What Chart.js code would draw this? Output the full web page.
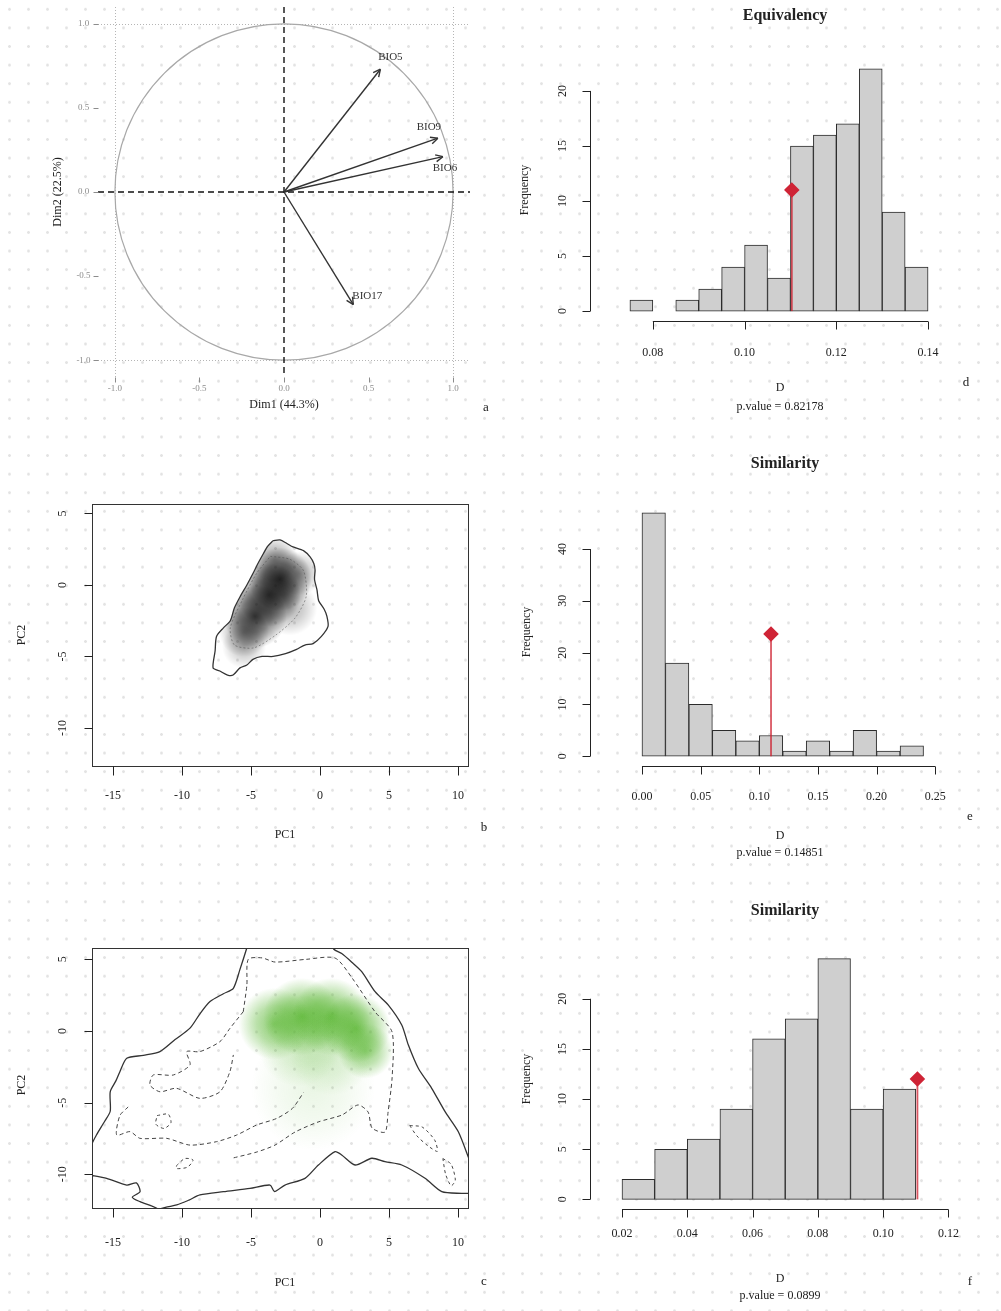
<!DOCTYPE html>
<html>
<head>
<meta charset="utf-8">
<script src="https://cdn.jsdelivr.net/npm/chart.js@4.4.1/dist/chart.umd.min.js"></script>
<style>
html, body { margin: 0; padding: 0; background: #fff; }
body {
    width: 1001px; height: 1311px; position: relative; overflow: hidden;
    background-image: radial-gradient(circle, #e3e3e3 1px, transparent 1.7px);
    background-size: 19px 18.6px;
}
canvas { position: absolute; }
</style>
</head>
<body>
<canvas id="pa"></canvas>
<canvas id="pb"></canvas>
<canvas id="pc"></canvas>
<canvas id="pd"></canvas>
<canvas id="pe"></canvas>
<canvas id="pf"></canvas>
<script>
// ---- a: PCA correlation circle
const pcaVars = ['BIO5', 'BIO9', 'BIO6', 'BIO17']
const pcaDim1 = [0.57, 0.91, 0.94, 0.41]
const pcaDim2 = [0.73, 0.32, 0.21, -0.67]
const pcaTicks = [-1, -0.5, 0, 0.5, 1]
const pcaTickLabels = ['-1.0', '-0.5', '0.0', '0.5', '1.0']
const pcaGrid = [-1, 1]

// ---- d: equivalency test histogram
const eqBins = [0.0775, 0.0825, 0.0875, 0.0925, 0.0975, 0.1025, 0.1075, 0.1125, 0.1175, 0.1225, 0.1275, 0.1325, 0.1375]
const eqCounts = [1, 0, 1, 2, 4, 6, 3, 15, 16, 17, 22, 9, 4]
const eqObs = [0.1103, 11]
const eqXTicks = [0.08, 0.10, 0.12, 0.14]
const eqXLabels = ['0.08', '0.10', '0.12', '0.14']
const eqYTicks = [0, 5, 10, 15, 20]

// ---- e: similarity test histogram
const simBins = [0.01, 0.03, 0.05, 0.07, 0.09, 0.11, 0.13, 0.15, 0.17, 0.19, 0.21, 0.23]
const simCounts = [47, 18, 10, 5, 3, 4, 1, 3, 1, 5, 1, 2]
const simObs = [0.11, 23.6]
const simXTicks = [0, 0.05, 0.10, 0.15, 0.20, 0.25]
const simXLabels = ['0.00', '0.05', '0.10', '0.15', '0.20', '0.25']
const simYTicks = [0, 10, 20, 30, 40]

// ---- f: similarity test histogram
const sim2Bins = [0.025, 0.035, 0.045, 0.055, 0.065, 0.075, 0.085, 0.095, 0.105]
const sim2Counts = [2, 5, 6, 9, 16, 18, 24, 9, 11]
const sim2Obs = [0.1105, 12]
const sim2XTicks = [0.02, 0.04, 0.06, 0.08, 0.10, 0.12]
const sim2XLabels = ['0.02', '0.04', '0.06', '0.08', '0.10', '0.12']
const sim2YTicks = [0, 5, 10, 15, 20]

// ---- b, c: niche space (PC1 / PC2)
const pcXTicks = [-15, -10, -5, 0, 5, 10]
const pcYTicks = [5, 0, -5, -10]

const bOutline = [[-3.4, 3.1], [-2.9, 3.15], [-2.4, 2.9], [-1.96, 2.66], [-1.2, 2.4], [-0.72, 1.96], [-0.45, 1.5], [-0.36, 1.05],
    [-0.4, 0.4], [-0.22, -0.35], [-0.1, -1.1], [0.3, -1.7], [0.5, -2.2], [0.58, -2.9], [0.1, -3.6], [-0.5, -4.1],
    [-1.1, -4.2], [-1.7, -4.5], [-2.5, -4.8], [-3.4, -5.0], [-4.2, -5.0], [-4.86, -5.2], [-5.3, -5.6], [-5.8, -5.8],
    [-6.3, -6.3], [-6.7, -6.3], [-7.3, -6.0], [-7.75, -5.8], [-7.6, -4.6], [-7.5, -3.6], [-7.0, -3.0], [-6.5, -2.5],
    [-6.2, -1.6], [-5.8, -0.84], [-5.3, 0.0], [-4.86, 0.8], [-4.5, 1.5], [-4.1, 2.2], [-3.8, 2.7], [-3.4, 3.1]]
const bInner = [[-3.6, 2.0], [-2.2, 1.8], [-1.2, 1.0], [-1.0, -0.8], [-1.8, -2.3], [-3.2, -3.5], [-4.8, -4.4],
    [-6.2, -4.2], [-6.5, -3.0], [-5.6, -1.0], [-4.6, 0.8], [-3.6, 2.0]]
// density kernels: x, y, radius, weight
const bDensity = [[-2.9, 0.4, 2.3, 0.8], [-3.7, -0.7, 2.3, 0.7], [-4.7, -2.2, 2.3, 0.75], [-5.5, -3.3, 1.8, 0.4],
    [-2.2, -1.6, 2.0, 0.3], [-3.3, 1.8, 1.7, 0.35], [-5.5, -4.3, 1.6, 0.25], [-1.5, 0.8, 1.6, 0.3]]

const cSolidOuter = [[-16.6, -8.0], [-16.2, -7.26], [-15.6, -6.3], [-15.2, -5.6], [-15.2, -4.24], [-14.8, -3.5],
    [-14.5, -2.84], [-14.0, -1.9], [-12.8, -1.7], [-11.6, -1.44], [-10.5, -0.6], [-9.42, 0.2], [-8.7, 1.2],
    [-7.97, 2.05], [-7.0, 2.6], [-6.28, 2.98], [-5.8, 4.3], [-5.31, 5.77], [-5.1, 6.5], [0.6, 6.5], [1.0, 5.7],
    [1.57, 5.4], [2.3, 4.8], [3.02, 4.14], [3.99, 2.74], [4.95, 1.81], [5.92, 0.42], [6.4, -0.98], [7.12, -2.6],
    [8.09, -4.0], [9.06, -5.63], [10.02, -7.03], [10.87, -9.12]]
const cSolidBottom = [[-12.2, -12.6], [-11.2, -12.3], [-10.38, -12.14], [-9.5, -11.8], [-8.7, -11.44], [-7.0, -11.21],
    [-5.07, -10.98], [-3.62, -10.75], [-3.3, -11.2], [-2.54, -10.75], [-1.09, -10.28], [-0.12, -9.35], [1.09, -8.42],
    [1.57, -8.65], [2.54, -9.35], [3.75, -8.88], [4.71, -9.12], [5.92, -9.35], [7.61, -10.28], [8.82, -11.21],
    [10.27, -11.33], [10.9, -11.33]]
const cSolidCorner = [[-16.7, -10.05], [-15.46, -10.28], [-14.0, -10.75], [-13.3, -10.6], [-13.04, -11.21],
    [-13.6, -11.6], [-13.04, -11.91], [-11.83, -12.37], [-11.5, -12.8]]
const cDashInner = [[-5.56, 1.35], [-5.3, 3.2], [-5.2, 5.0], [-4.2, 5.1], [-3.26, 4.81], [-1.0, 5.0], [1.09, 5.09],
    [2.32, 3.7], [3.99, 1.33], [5.22, -0.07], [5.22, -3.28], [4.93, -5.65], [4.71, -7.05], [3.77, -6.77], [3.48, -5.65],
    [2.75, -5.16], [1.59, -5.86], [-0.14, -6.35], [-1.81, -7.05], [-3.26, -7.96], [-4.57, -8.44], [-6.3, -8.86]]
const cDashLeft = [[-5.56, 1.35], [-6.53, 0.18], [-7.25, -0.74], [-8.7, -1.44], [-9.66, -1.44], [-9.42, -2.37],
    [-10.63, -3.07], [-12.08, -3.07], [-12.32, -3.77], [-11.6, -4.24], [-10.4, -4.0], [-8.7, -4.7], [-7.25, -4.24],
    [-6.53, -2.84], [-6.28, -1.67]]
const cDashLow = [[-13.9, -5.3], [-14.5, -5.9], [-14.73, -7.26], [-13.77, -7.02], [-13.04, -7.49], [-11.11, -7.49],
    [-9.42, -7.96], [-7.49, -7.72], [-6.04, -7.26], [-4.59, -6.56], [-3.14, -6.1], [-2.0, -5.4], [-1.2, -4.3]]
const cLoops = [
    [[-11.8, -5.9], [-11.0, -5.8], [-10.8, -6.4], [-11.3, -6.8], [-11.9, -6.5], [-11.8, -5.9]],
    [[-10.4, -9.4], [-9.8, -8.9], [-9.2, -9.0], [-9.6, -9.5], [-10.4, -9.6], [-10.4, -9.4]],
    [[6.5, -6.6], [7.4, -6.7], [8.3, -7.6], [8.5, -8.4], [7.8, -8.0], [7.0, -7.3], [6.5, -6.6]],
    [[8.9, -8.9], [9.5, -9.3], [9.8, -10.4], [9.5, -10.8], [9.1, -10.0], [8.9, -8.9]]
]
const cDensity = [[-3.3, 0.5, 2.6, 0.65], [-1.3, 1.0, 2.8, 0.75], [0.8, 1.0, 2.8, 0.75], [2.6, 0.2, 2.5, 0.75],
    [3.3, -1.4, 2.0, 0.6], [-1.5, -1.0, 3.0, 0.25], [0.8, -1.6, 3.0, 0.2], [-0.5, -4.0, 4.5, 0.12]]

const serif = (size, bold) => (bold ? 'bold ' : '') + size + 'px "Liberation Serif", "DejaVu Serif", serif'
const INK = '#222'
const extras = {}

function place(id, box, area) {
    const c = document.getElementById(id)
    c.width = box.w
    c.height = box.h
    c.style.left = box.x + 'px'
    c.style.top = box.y + 'px'
    c.style.width = box.w + 'px'
    c.style.height = box.h + 'px'
    return {
        canvas: c,
        padding: {left: area.l - box.x, top: area.t - box.y, right: box.x + box.w - area.r, bottom: box.y + box.h - area.b}
    }
}

function drawText(ctx, t, x, y, font, color, rot) {
    ctx.save()
    ctx.translate(x, y)
    if (rot) ctx.rotate(rot)
    ctx.font = font
    ctx.fillStyle = color || INK
    ctx.textAlign = 'center'
    ctx.textBaseline = 'middle'
    ctx.fillText(t, 0, 0)
    ctx.restore()
}

// R style axes, drawn from the chart's own scales
function axisX(chart, ticks, labels, o) {
    const ctx = chart.ctx, s = chart.scales.x, y = Math.round(chart.chartArea.bottom) + 0.5
    ctx.save()
    ctx.strokeStyle = o.color || INK
    ctx.lineWidth = 1
    ctx.beginPath()
    if (o.line) {
        ctx.moveTo(s.getPixelForValue(ticks[0]), y)
        ctx.lineTo(s.getPixelForValue(ticks[ticks.length - 1]), y)
    }
    ticks.forEach(v => {
        const x = Math.round(s.getPixelForValue(v)) + 0.5
        ctx.moveTo(x, y)
        ctx.lineTo(x, y + o.len)
    })
    ctx.stroke()
    labels.forEach((l, i) => drawText(ctx, l, s.getPixelForValue(ticks[i]), y + o.off, o.font, o.color))
    ctx.restore()
}

function axisY(chart, ticks, labels, o) {
    const ctx = chart.ctx, s = chart.scales.y, x = Math.round(chart.chartArea.left) + 0.5
    ctx.save()
    ctx.strokeStyle = o.color || INK
    ctx.lineWidth = 1
    ctx.beginPath()
    if (o.line) {
        ctx.moveTo(x, s.getPixelForValue(ticks[0]))
        ctx.lineTo(x, s.getPixelForValue(ticks[ticks.length - 1]))
    }
    ticks.forEach(v => {
        const y = Math.round(s.getPixelForValue(v)) + 0.5
        ctx.moveTo(x, y)
        ctx.lineTo(x - o.len, y)
    })
    ctx.stroke()
    labels.forEach((l, i) => drawText(ctx, l, x - o.off, s.getPixelForValue(ticks[i]), o.font, o.color, o.rot ? -Math.PI / 2 : 0))
    ctx.restore()
}

function drawBlobs(chart, blobs, rgb) {
    const ctx = chart.ctx, sx = chart.scales.x, sy = chart.scales.y
    const unit = Math.abs(sx.getPixelForValue(1) - sx.getPixelForValue(0))
    blobs.forEach(b => {
        const cx = sx.getPixelForValue(b[0]), cy = sy.getPixelForValue(b[1]), r = b[2] * unit
        const g = ctx.createRadialGradient(cx, cy, 0, cx, cy, r)
        g.addColorStop(0, 'rgba(' + rgb + ',' + b[3] + ')')
        g.addColorStop(0.5, 'rgba(' + rgb + ',' + (b[3] * 0.6) + ')')
        g.addColorStop(1, 'rgba(' + rgb + ',0)')
        ctx.fillStyle = g
        ctx.fillRect(cx - r, cy - r, 2 * r, 2 * r)
    })
}

function polyPath(chart, pts) {
    const ctx = chart.ctx, sx = chart.scales.x, sy = chart.scales.y
    ctx.beginPath()
    pts.forEach((p, i) => {
        const x = sx.getPixelForValue(p[0]), y = sy.getPixelForValue(p[1])
        if (i === 0) ctx.moveTo(x, y)
        else ctx.lineTo(x, y)
    })
    ctx.closePath()
}

const rstyle = {
    id: 'rstyle',
    beforeDatasetsDraw(chart) {
        const p = extras[chart.canvas.id]
        if (p && p.under) p.under(chart)
    },
    afterDraw(chart) {
        const p = extras[chart.canvas.id]
        if (!p) return
        if (p.over) p.over(chart)
        ;(p.texts || []).forEach(t => drawText(chart.ctx, t[0], t[1] - p.box.x, t[2] - p.box.y, t[3], t[4], t[5]))
    }
}

const lineSet = (pts, color, width, dash) => ({
    type: 'scatter',
    data: pts.map(p => ({x: p[0], y: p[1]})),
    showLine: true,
    borderColor: color,
    borderWidth: width,
    borderDash: dash || [],
    tension: 0.25,
    pointRadius: 0,
    fill: false
})

function baseOptions(padding, xr, yr) {
    return {
        responsive: false,
        animation: false,
        events: [],
        layout: {padding: padding},
        plugins: {legend: {display: false}, tooltip: {enabled: false}, title: {display: false}},
        scales: {
            x: {type: 'linear', min: xr[0], max: xr[1], display: false, offset: false,
                afterBuildTicks: s => { s.ticks = [] }},
            y: {type: 'linear', min: yr[0], max: yr[1], display: false,
                afterBuildTicks: s => { s.ticks = [] }}
        }
    }
}

// ---------- histogram panels (d, e, f)
function makeHist(p) {
    const pl = place(p.id, p.box, p.area)
    extras[p.id] = p
    p.over = chart => {
        axisX(chart, p.xTicks, p.xLabels, {line: true, len: 8, off: p.xOff, font: serif(12)})
        axisY(chart, p.yTicks, p.yTicks.map(String), {line: true, len: 8, off: 28, font: serif(12), rot: true})
    }
    return new Chart(pl.canvas, {
        type: 'bar',
        data: {
            datasets: [{
                type: 'bar',
                data: p.bins.map((b, i) => ({x: b, y: p.counts[i]})),
                backgroundColor: '#cfcfcf',
                borderColor: '#2b2b2b',
                borderWidth: 1,
                borderSkipped: false,
                barPercentage: 1,
                categoryPercentage: 1,
                order: 2
            }, {
                type: 'line',
                data: [{x: p.obs[0], y: 0}, {x: p.obs[0], y: p.obs[1]}],
                borderColor: 'rgba(205, 30, 45, 0.75)',
                borderWidth: 1.8,
                pointRadius: [0, 6.5],
                pointStyle: 'rectRot',
                pointBackgroundColor: '#cf2436',
                pointBorderColor: '#cf2436',
                order: 1
            }]
        },
        options: baseOptions(pl.padding, p.xr, p.yr),
        plugins: [rstyle]
    })
}

makeHist({
    id: 'pd', box: {x: 500, y: 0, w: 501, h: 430}, area: {l: 590, t: 59, r: 951, b: 321},
    xr: [0.0663, 0.145], yr: [-0.9, 22.9],
    bins: eqBins, counts: eqCounts, obs: eqObs,
    xTicks: eqXTicks, xLabels: eqXLabels, yTicks: eqYTicks, xOff: 31,
    texts: [
        ['Equivalency', 785, 16, serif(16, true)],
        ['Frequency', 525, 190, serif(12), INK, -Math.PI / 2],
        ['D', 780, 388, serif(12)],
        ['p.value = 0.82178', 780, 407, serif(12)],
        ['d', 966, 383, serif(13)]
    ]
})

makeHist({
    id: 'pe', box: {x: 500, y: 430, w: 501, h: 450}, area: {l: 590, t: 503, r: 947, b: 766},
    xr: [-0.0443, 0.2600], yr: [-1.88, 48.88],
    bins: simBins, counts: simCounts, obs: simObs,
    xTicks: simXTicks, xLabels: simXLabels, yTicks: simYTicks, xOff: 30,
    texts: [
        ['Similarity', 785, 464, serif(16, true)],
        ['Frequency', 527, 632, serif(12), INK, -Math.PI / 2],
        ['D', 780, 836, serif(12)],
        ['p.value = 0.14851', 780, 853, serif(12)],
        ['e', 970, 817, serif(13)]
    ]
})

makeHist({
    id: 'pf', box: {x: 500, y: 880, w: 501, h: 431}, area: {l: 590, t: 949, r: 953, b: 1209},
    xr: [0.0102, 0.1214], yr: [-0.96, 24.96],
    bins: sim2Bins, counts: sim2Counts, obs: sim2Obs,
    xTicks: sim2XTicks, xLabels: sim2XLabels, yTicks: sim2YTicks, xOff: 24,
    texts: [
        ['Similarity', 785, 911, serif(16, true)],
        ['Frequency', 527, 1079, serif(12), INK, -Math.PI / 2],
        ['D', 780, 1279, serif(12)],
        ['p.value = 0.0899', 780, 1296, serif(12)],
        ['f', 970, 1282, serif(13)]
    ]
})

// ---------- a: correlation circle
;(function () {
    const p = {
        id: 'pa', box: {x: 0, y: 0, w: 500, h: 430}, area: {l: 98, t: 7, r: 470, b: 377},
        texts: [
            ['Dim1 (44.3%)', 284, 405, serif(12)],
            ['Dim2 (22.5%)', 58, 192, serif(12), INK, -Math.PI / 2],
            ['a', 486, 408, serif(13)]
        ]
    }
    const pl = place(p.id, p.box, p.area)
    extras[p.id] = p
    p.under = chart => {
        const ctx = chart.ctx, sx = chart.scales.x, sy = chart.scales.y, a = chart.chartArea
        ctx.save()
        ctx.strokeStyle = '#b5b5b5'
        ctx.lineWidth = 1
        ctx.setLineDash([1, 2])
        ctx.beginPath()
        pcaGrid.forEach(v => {
            const x = Math.round(sx.getPixelForValue(v)) + 0.5, y = Math.round(sy.getPixelForValue(v)) + 0.5
            ctx.moveTo(x, a.top); ctx.lineTo(x, a.bottom)
            ctx.moveTo(a.left, y); ctx.lineTo(a.right, y)
        })
        ctx.stroke()
        ctx.setLineDash([])
        // unit circle
        const cx = sx.getPixelForValue(0), cy = sy.getPixelForValue(0)
        ctx.strokeStyle = '#a8a8a8'
        ctx.lineWidth = 1.2
        ctx.beginPath()
        ctx.ellipse(cx, cy, sx.getPixelForValue(1) - cx, cy - sy.getPixelForValue(1), 0, 0, Math.PI * 2)
        ctx.stroke()
        // dashed reference lines at 0
        ctx.strokeStyle = '#111'
        ctx.lineWidth = 1.4
        ctx.setLineDash([6, 4])
        ctx.beginPath()
        ctx.moveTo(a.left, cy); ctx.lineTo(a.right, cy)
        ctx.moveTo(cx, a.top); ctx.lineTo(cx, a.bottom)
        ctx.stroke()
        ctx.restore()
        // ticks and labels
        const grey = '#8c8c8c'
        axisX(chart, pcaTicks, pcaTickLabels, {len: 5, off: 11, font: serif(9), color: grey})
        axisY(chart, pcaTicks, pcaTickLabels, {len: 5, off: 15, font: serif(9), color: grey})
    }
    const labelOffsets = [[10, -12], [-9, -11], [2, 11], [14, -9]]
    p.over = chart => {
        const ctx = chart.ctx
        pcaVars.forEach((name, i) => {
            const meta = chart.getDatasetMeta(i)
            const o = meta.data[0], t = meta.data[1]
            const ang = Math.atan2(t.y - o.y, t.x - o.x)
            ctx.save()
            ctx.strokeStyle = '#333'
            ctx.lineWidth = 1.4
            ctx.beginPath()
            ;[0.45, -0.45].forEach(d => {
                ctx.moveTo(t.x, t.y)
                ctx.lineTo(t.x - 8 * Math.cos(ang + d), t.y - 8 * Math.sin(ang + d))
            })
            ctx.stroke()
            ctx.restore()
            drawText(ctx, name, t.x + labelOffsets[i][0], t.y + labelOffsets[i][1], serif(11), '#333')
        })
    }
    new Chart(pl.canvas, {
        type: 'scatter',
        data: {
            datasets: pcaVars.map((name, i) => ({
                label: name,
                data: [{x: 0, y: 0}, {x: pcaDim1[i], y: pcaDim2[i]}],
                showLine: true,
                borderColor: '#333',
                borderWidth: 1.4,
                pointRadius: 0
            }))
        },
        options: baseOptions(pl.padding, [-1.1, 1.1], [-1.1, 1.1]),
        plugins: [rstyle]
    })
})()

// ---------- b, c: niche density panels
function makeNiche(p) {
    const pl = place(p.id, p.box, p.area)
    extras[p.id] = p
    p.under = chart => {
        const ctx = chart.ctx, a = chart.chartArea
        ctx.save()
        ctx.beginPath()
        ctx.rect(a.left, a.top, a.right - a.left, a.bottom - a.top)
        ctx.clip()
        if (p.clipTo) {
            polyPath(chart, p.clipTo)
            ctx.clip()
        }
        drawBlobs(chart, p.density, p.rgb)
        ctx.restore()
    }
    p.over = chart => {
        const ctx = chart.ctx, a = chart.chartArea
        ctx.save()
        ctx.strokeStyle = '#333'
        ctx.lineWidth = 1
        ctx.strokeRect(Math.round(a.left) + 0.5, Math.round(a.top) + 0.5, Math.round(a.right - a.left), Math.round(a.bottom - a.top))
        ctx.restore()
        axisX(chart, pcXTicks, pcXTicks.map(String), {len: 9, off: p.xOff, font: serif(12)})
        axisY(chart, pcYTicks, pcYTicks.map(String), {len: 8, off: 30, font: serif(12), rot: true})
    }
    return new Chart(pl.canvas, {
        type: 'scatter',
        data: {datasets: p.lines},
        options: baseOptions(pl.padding, p.xr, p.yr),
        plugins: [rstyle]
    })
}

makeNiche({
    id: 'pb', box: {x: 0, y: 430, w: 500, h: 450}, area: {l: 92, t: 504, r: 468, b: 766},
    xr: [-16.52, 10.72], yr: [-12.66, 5.66], xOff: 29,
    density: bDensity, rgb: '0,0,0', clipTo: bOutline,
    lines: [
        lineSet(bInner, 'rgba(70,70,70,0.55)', 0.9, [2, 2]),
        lineSet(bOutline, '#333', 1.3)
    ],
    texts: [
        ['PC1', 285, 835, serif(12)],
        ['PC2', 22, 635, serif(12), INK, -Math.PI / 2],
        ['b', 484, 828, serif(13)]
    ]
})

makeNiche({
    id: 'pc', box: {x: 0, y: 880, w: 500, h: 431}, area: {l: 92, t: 948, r: 468, b: 1208},
    xr: [-16.52, 10.72], yr: [-12.35, 5.79], xOff: 34,
    density: cDensity, rgb: '80,178,38',
    lines: [
        lineSet(cSolidOuter, '#333', 1.3),
        lineSet(cSolidBottom, '#333', 1.3),
        lineSet(cSolidCorner, '#333', 1.3),
        lineSet(cDashInner, '#444', 1, [4, 3]),
        lineSet(cDashLeft, '#444', 1, [4, 3]),
        lineSet(cDashLow, '#444', 1, [4, 3])
    ].concat(cLoops.map(l => lineSet(l, '#444', 1, [3, 3]))),
    texts: [
        ['PC1', 285, 1283, serif(12)],
        ['PC2', 22, 1085, serif(12), INK, -Math.PI / 2],
        ['c', 484, 1282, serif(13)]
    ]
})
</script>
</body>
</html>
